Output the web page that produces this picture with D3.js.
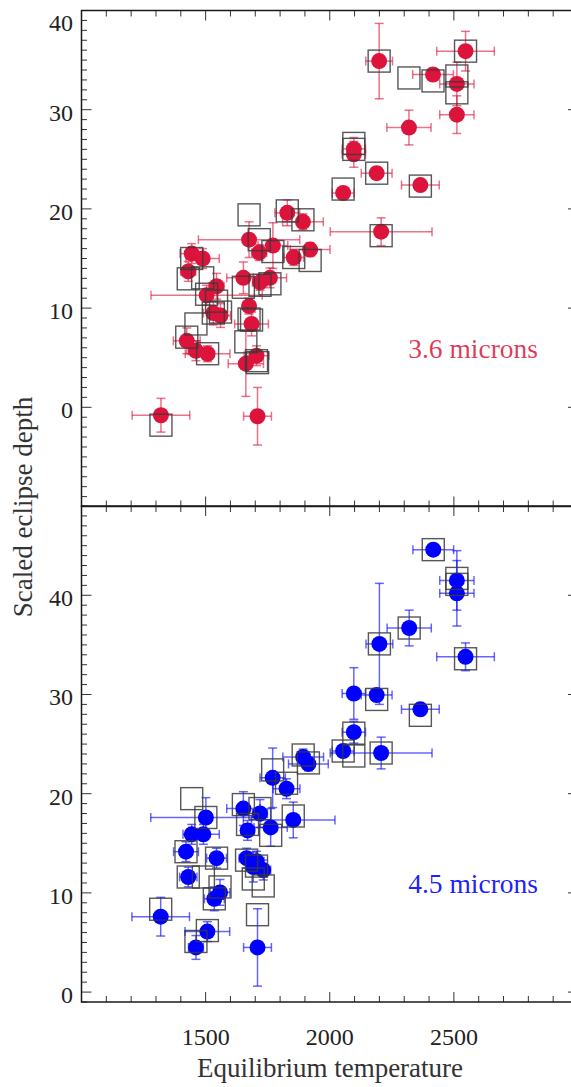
<!DOCTYPE html>
<html><head><meta charset="utf-8">
<script src="https://cdn.jsdelivr.net/npm/d3@7"></script>
<style>body{margin:0;background:#fff}svg{display:block}</style>
</head><body><svg id="c" width="571" height="1087"></svg>
<script>
// ---- 3.6 micron channel ----
const temp36  = [2199,2547,2416,2512,2512,2319,2097,2097,2189,2054,2365,2207,1829,1892,1675,1716,1771,1855,1921,1444,1488,1430,1544,1504,1652,1719,1759,1675,1685,1531,1560,1424,1461,1508,1662,1705,1320,1709];
const depth36 = [34.9,35.9,33.55,32.6,29.5,28.2,26.05,25.5,23.6,21.6,22.4,17.7,19.6,18.7,16.9,15.6,16.3,15.1,15.9,15.5,15.0,13.7,12.2,11.3,13.05,12.6,13.05,10.2,8.4,9.5,9.25,6.7,5.7,5.4,4.4,5.2,-0.8,-0.9];
const terr36  = [54,116,82,69,69,89,47,47,62,44,76,205,50,82,204,30,60,40,80,47,67,30,30,224,67,30,67,25,68,40,40,54,30,90,71,50,116,56];
const derr36  = [3.8,2.0,0.5,2.2,1.9,1.75,1.15,1.3,0.6,0.5,0.5,1.4,1.3,0.8,1.8,0.8,2.3,0.8,0.7,1.0,1.0,1.0,1.3,1.0,1.6,0.8,1.0,0.8,1.2,1.2,1.2,1.3,1.0,0.8,3.3,1.0,1.7,2.9];
const model36 = [34.9,35.9,32.9,33.4,31.7,33.2,26.6,26.0,23.6,22.0,22.3,17.3,19.8,18.9,19.4,16.9,15.7,15.1,14.8,15.0,13.05,12.95,10.7,11.4,12.1,12.3,12.45,8.9,8.8,9.5,9.6,7.07,8.4,5.4,6.6,4.7,-1.8,4.5];

// ---- 4.5 micron channel ----
const temp45  = [2417,2512,2512,2320,2200,2547,2097,2189,2365,2097,2054,2207,1893,1914,1770,1826,1853,1501,1652,1719,1762,1669,1444,1491,1421,1544,1665,1705,1692,1732,1430,1558,1535,1319,1507,1461,1709];
const depth45 = [44.6,41.5,40.2,36.7,35.1,33.8,30.1,29.95,28.5,26.2,24.3,24.1,23.7,23.0,21.6,20.5,17.35,17.6,18.5,18.0,16.6,16.3,15.9,15.9,14.15,13.5,13.5,13.2,12.6,12.3,11.6,10.05,9.4,7.6,6.1,4.5,4.5];
const terr45  = [82,69,69,89,54,116,47,62,76,47,44,205,82,80,51,54,168,222,67,30,67,25,35,64,50,40,30,30,30,30,35,40,40,116,90,30,56];
const derr45  = [0.5,3.0,3.3,1.8,6.1,1.4,2.6,0.6,0.6,1.1,0.5,1.6,0.8,0.7,3.0,1.0,1.8,2.0,1.7,1.4,1.9,1.0,1.0,1.0,1.0,1.0,1.0,1.0,1.5,1.0,1.0,1.3,1.2,1.95,1.0,1.2,3.9];
const model45 = [44.6,41.7,41.1,36.7,35.1,33.6,23.8,29.5,27.9,26.1,24.3,24.1,23.9,23.1,22.4,21.05,17.75,17.6,18.9,18.5,15.8,16.9,19.5,11.6,14.15,13.5,13.3,12.7,11.4,10.7,11.6,10.6,9.4,8.35,6.2,5.1,7.8];

// ---- axes ----
const xTickLabels = [1500, 2000, 2500];
const yTickLabels = [0, 10, 20, 30, 40];

const svg = d3.select('#c');
svg.append('rect').attr('width',571).attr('height',1087).attr('fill','#fff');
const FONT = '"Liberation Serif","Times New Roman",serif';
const x = d3.scaleLinear().domain([1000, 3000]).range([81.5, 578]);

const panels = [
  {label:'3.6 microns', color:'#DC143C', domain:[-10,40], range:[506.5,10.5],
   t:temp36, d:depth36, te:terr36, de:derr36, m:model36, labelY:358},
  {label:'4.5 microns', color:'#0000FF', domain:[-1,49], range:[1002,506],
   t:temp45, d:depth45, te:terr45, de:derr45, m:model45, labelY:893}
];

panels.forEach((p, pi) => {
  const y = d3.scaleLinear().domain(p.domain).range(p.range);
  const g = svg.append('g');
  const top = p.range[1], bot = p.range[0], L = x.range()[0], R = x.range()[1];

  // ticks
  const tk = g.append('g').attr('stroke','#333').attr('stroke-width',1);
  d3.range(1000, 3001, 100).forEach(v => {
    const len = v % 500 === 0 ? 10 : 6;
    const px = x(v);
    tk.append('line').attr('x1',px).attr('x2',px).attr('y1',top).attr('y2',top+len);
    tk.append('line').attr('x1',px).attr('x2',px).attr('y1',bot).attr('y2',bot-len);
  });
  d3.range(p.domain[0], p.domain[1] + 1, 1).forEach(v => {
    const len = v % 10 === 0 ? 10 : 5.5;
    const py = y(v);
    tk.append('line').attr('x1',L).attr('x2',L+len).attr('y1',py).attr('y2',py);
    tk.append('line').attr('x1',R).attr('x2',R-len).attr('y1',py).attr('y2',py);
  });

  // frame
  g.append('rect').attr('x',L).attr('y',top).attr('width',R-L).attr('height',bot-top)
    .attr('fill','none').attr('stroke','#1a1a1a').attr('stroke-width',1.5);

  // y tick labels
  g.append('g').selectAll('text').data(yTickLabels).join('text')
    .attr('x', 73).attr('y', v => Math.max(y(v) + 3, top + 12.5))
    .attr('dominant-baseline','central').attr('text-anchor','end')
    .attr('font-family',FONT).attr('font-size',24).attr('fill','#222')
    .text(d => d);

  const data = p.t.map((t,i) => ({t, d:p.d[i], te:p.te[i], de:p.de[i], m:p.m[i]}));

  // error bars
  const eb = g.append('g').attr('stroke', p.color).attr('stroke-opacity',0.6).attr('stroke-width',1.5);
  const cap = 4.5;
  data.forEach(o => {
    const cx = x(o.t), cy = y(o.d);
    const x0 = x(o.t - o.te), x1 = x(o.t + o.te);
    const y0 = y(o.d - o.de), y1 = y(o.d + o.de);
    eb.append('line').attr('x1',x0).attr('x2',x1).attr('y1',cy).attr('y2',cy);
    eb.append('line').attr('x1',x0).attr('x2',x0).attr('y1',cy-cap).attr('y2',cy+cap);
    eb.append('line').attr('x1',x1).attr('x2',x1).attr('y1',cy-cap).attr('y2',cy+cap);
    eb.append('line').attr('x1',cx).attr('x2',cx).attr('y1',y0).attr('y2',y1);
    eb.append('line').attr('x1',cx-cap).attr('x2',cx+cap).attr('y1',y0).attr('y2',y0);
    eb.append('line').attr('x1',cx-cap).attr('x2',cx+cap).attr('y1',y1).attr('y2',y1);
  });

  // points
  g.append('g').selectAll('circle').data(data).join('circle')
    .attr('cx', o => x(o.t)).attr('cy', o => y(o.d)).attr('r', 8)
    .attr('fill', p.color);

  // model squares
  const S = 22;
  g.append('g').selectAll('rect').data(data).join('rect')
    .attr('x', o => x(o.t) - S/2).attr('y', o => y(o.m) - S/2)
    .attr('width', S).attr('height', S)
    .attr('fill','none').attr('stroke','#3a3a3a').attr('stroke-opacity',0.85).attr('stroke-width',1.4);

  // channel label
  g.append('text').attr('x', 538).attr('y', p.labelY).attr('text-anchor','end')
    .attr('font-family',FONT).attr('font-size',27.5).attr('fill',p.color)
    .attr('fill-opacity', pi === 0 ? 0.85 : 0.9)
    .text(p.label);

  if (pi === 1) {
    g.append('g').selectAll('text').data(xTickLabels).join('text')
      .attr('x', v => x(v)).attr('y', 1045).attr('text-anchor','middle')
      .attr('font-family',FONT).attr('font-size',24).attr('fill','#222')
      .text(d => d);
  }
});

// axis titles
svg.append('text').attr('x', 330).attr('y', 1077).attr('text-anchor','middle')
  .attr('font-family',FONT).attr('font-size',27).attr('fill','#333')
  .text('Equilibrium temperature');
svg.append('text').attr('transform','translate(32,507) rotate(-90)').attr('text-anchor','middle')
  .attr('font-family',FONT).attr('font-size',27).attr('fill','#333')
  .text('Scaled eclipse depth');
</script></body></html>
